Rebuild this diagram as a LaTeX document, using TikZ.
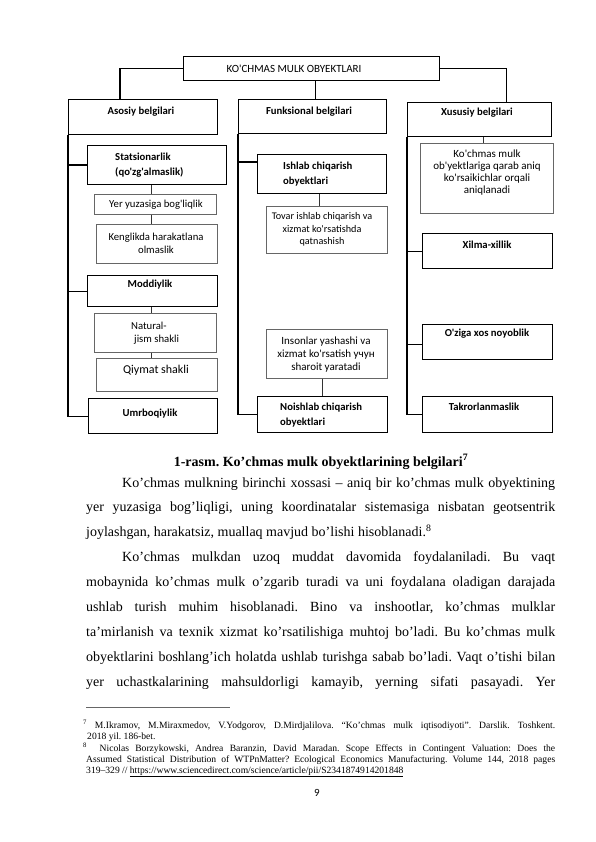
\documentclass[tikz,border=0pt]{standalone}
\usepackage{fontspec}
\setmainfont{Liberation Serif}
\newfontfamily\calfont{Carlito}
\frenchspacing
\begin{document}
\begin{tikzpicture}[x=1pt,y=-1pt,
  bbox/.style={draw=black, line width=1.1pt, inner sep=0pt, anchor=north west},
  gbox/.style={draw=black!60, line width=0.6pt, inner sep=0pt, anchor=north west},
  conn/.style={line width=1.1pt, black},
  tconn/.style={line width=0.7pt, black!80},
  hd/.style={font=\calfont\bfseries\fontsize{10.7}{15}\selectfont, inner sep=0pt},
  tx/.style={font=\calfont\fontsize{10.7}{13}\selectfont, inner sep=0pt, align=center},
  bodyline/.style={font=\fontsize{14}{16}\selectfont\frenchspacing, inner sep=0pt, anchor=base west},
  fnline/.style={font=\fontsize{9.6}{11}\selectfont\frenchspacing, inner sep=0pt, anchor=base west}]
\useasboundingbox (0,0) rectangle (595,842);
\fill[white] (0,0) rectangle (595,842);

% ---------- boxes ----------
\node[bbox, minimum width=256pt, minimum height=24pt] (top) at (183,56) {};
\node[bbox, minimum width=149pt, minimum height=35pt] (asosiy) at (68,99) {};
\node[bbox, minimum width=148pt, minimum height=34pt] (funk) at (238,99) {};
\node[bbox, minimum width=144pt, minimum height=34pt] (xusus) at (407,102) {};

\node[bbox, minimum width=139pt, minimum height=39pt] (stats) at (87,145) {};
\node[gbox, minimum width=122pt, minimum height=20pt] (yer) at (94,194) {};
\node[gbox, minimum width=121pt, minimum height=39pt] (kengl) at (96,224) {};
\node[bbox, minimum width=130pt, minimum height=31pt] (moddiy) at (87,275) {};
\node[gbox, minimum width=122pt, minimum height=39pt] (natural) at (94,313) {};
\node[gbox, minimum width=121pt, minimum height=33pt] (qiymat) at (96,358) {};
\node[bbox, minimum width=129pt, minimum height=35pt] (umr) at (88,398) {};

\node[bbox, minimum width=129pt, minimum height=39pt] (ishlab) at (257,154) {};
\node[gbox, minimum width=121pt, minimum height=47pt] (tovar) at (266,206) {};
\node[gbox, minimum width=121pt, minimum height=49pt] (inson) at (266,329) {};
\node[bbox, minimum width=130pt, minimum height=36pt] (noish) at (257,396) {};

\node[gbox, minimum width=133pt, minimum height=70pt] (koch) at (420,143) {};
\node[bbox, minimum width=130pt, minimum height=35pt] (xilma) at (422,233) {};
\node[bbox, minimum width=130pt, minimum height=35pt] (oziga) at (422,324) {};
\node[bbox, minimum width=130pt, minimum height=36pt] (takror) at (422,396) {};

% ---------- connectors ----------
\draw[conn] (top.west) -| ([xshift=52pt]asosiy.north west);
\draw[conn] ([xshift=4pt]top.south) -- ([xshift=4pt]top.south |- funk.north);
\draw[conn] (top.east) -| ([xshift=27pt]xusus.north);

\draw[conn] (asosiy.south west) |- (umr.west);
\draw[conn] (asosiy.south west |- stats.west) -- (stats.west);
\draw[conn] (asosiy.south west |- moddiy.west) -- (moddiy.west);
\draw[tconn] ([xshift=-5.5pt]stats.south) -- ([xshift=-5.5pt]stats.south |- yer.north);
\draw[tconn] ([xshift=-4pt]yer.south) -- ([xshift=-4pt]yer.south |- kengl.north);
\draw[tconn] ([xshift=-1pt]moddiy.south) -- ([xshift=-1pt]moddiy.south |- natural.north);
\draw[tconn] ([xshift=-4pt]natural.south) -- ([xshift=-4pt]natural.south |- qiymat.north);

\draw[conn] (funk.south west) |- (noish.west);
\draw[conn] (funk.south west |- ishlab.west) ++(0,-12) -- ([yshift=12pt]ishlab.west);
\draw[tconn] ([xshift=-2.5pt]ishlab.south) -- ([xshift=-2.5pt]ishlab.south |- tovar.north);
\draw[tconn] ([xshift=-4.5pt]inson.south) -- ([xshift=-4.5pt]inson.south |- noish.north);

\draw[conn] (xusus.south west) |- (takror.west);
\draw[conn] (xusus.south west |- xilma.west) -- (xilma.west);
\draw[conn] (xusus.south west |- oziga.west) ++(0,2) -- ([yshift=-2pt]oziga.west);
\draw[tconn] ([xshift=4pt]xusus.south) -- ([xshift=4pt]xusus.south |- koch.north);

% ---------- labels ----------
\node[inner sep=0pt, font=\calfont\fontsize{11}{13}\selectfont] (topT) at (294,68.5) {KO'CHMAS MULK OBYEKTLARI};
\node[hd] (asosiyT) at (141,112) {Asosiy belgilari};
\node[hd] (funkT) at (309,112) {Funksional belgilari};
\node[hd] (xususT) at (477,113) {Xususiy belgilari};
\node[hd, anchor=west, align=left] (statsT) at (115,165) {Statsionarlik\\(qo'zg'almaslik)};
\node[tx] (yerT) at (156,204.5) {Yer yuzasiga bog'liqlik};
\node[tx] (kenglT) at (156,243.5) {Kenglikda harakatlana\\olmaslik};
\node[hd] (moddiyT) at (150,285) {Moddiylik};
\node[tx, anchor=west, align=left] (naturalT) at (131,333.5) {Natural-\\\hspace*{3pt}jism shakli};
\node[tx, font=\calfont\fontsize{12}{14}\selectfont] (qiymatT) at (156,370) {Qiymat shakli};
\node[hd] (umrT) at (150,414) {Umrboqiylik};
\node[hd, anchor=west, align=left] (ishlabT) at (283,174.5) {Ishlab chiqarish\\obyektlari};
\node[tx, font=\calfont\fontsize{10.2}{12.5}\selectfont] (tovarT) at (322,229.5) {Tovar ishlab chiqarish va\\xizmat ko'rsatishda\\qatnashish};
\node[tx, font=\calfont\fontsize{11}{13}\selectfont] (insonT) at (326,355) {Insonlar yashashi va\\xizmat ko'rsatish учун\\sharoit yaratadi};
\node[hd, anchor=west, align=left] (noishT) at (280,415.5) {Noishlab chiqarish\\obyektlari};
\node[tx, font=\calfont\fontsize{11}{12}\selectfont] (kochT) at (487,173) {Ko'chmas mulk\\ob'yektlariga qarab aniq\\ko'rsaikichlar orqali\\aniqlanadi};
\node[hd] (xilmaT) at (487,245) {Xilma-xillik};
\node[hd] (ozigaT) at (487,334) {O'ziga xos noyoblik};
\node[hd] (takrorT) at (484,407) {Takrorlanmaslik};

% ---------- caption and body ----------
\node[inner sep=0pt, anchor=base, font=\bfseries\fontsize{14}{16}\selectfont] (cap) at (321,466) {1-rasm. Ko’chmas mulk obyektlarining belgilari\textsuperscript{7}};

\node[bodyline] (l1) at (122,487) {\makebox[433pt][s]{Ko’chmas mulkning birinchi xossasi – aniq bir ko’chmas mulk obyektining}};
\node[bodyline] (l2) at (86,511.9) {\makebox[469pt][s]{yer yuzasiga bog’liqligi, uning koordinatalar sistemasiga nisbatan geotsentrik}};
\node[bodyline] (l3) at (86,536.8) {joylashgan, harakatsiz, muallaq mavjud bo’lishi hisoblanadi.\textsuperscript{8}};
\node[bodyline] (l4) at (122,561.7) {\makebox[433pt][s]{Ko’chmas mulkdan uzoq muddat davomida foydalaniladi. Bu vaqt}};
\node[bodyline] (l5) at (86,586.6) {\makebox[469pt][s]{mobaynida ko’chmas mulk o’zgarib turadi va uni foydalana oladigan darajada}};
\node[bodyline] (l6) at (86,611.5) {\makebox[469pt][s]{ushlab turish muhim hisoblanadi. Bino va inshootlar, ko’chmas mulklar}};
\node[bodyline] (l7) at (86,636.4) {\makebox[469pt][s]{ta’mirlanish va texnik xizmat ko’rsatilishiga muhtoj bo’ladi. Bu ko’chmas mulk}};
\node[bodyline] (l8) at (86,661.3) {\makebox[469pt][s]{obyektlarini boshlang’ich holatda ushlab turishga sabab bo’ladi. Vaqt o’tishi bilan}};
\node[bodyline] (l9) at (86,686.2) {\makebox[469pt][s]{yer uchastkalarining mahsuldorligi kamayib, yerning sifati pasayadi. Yer}};

% ---------- footnotes ----------
\coordinate (ruleA) at (86,707);
\coordinate (ruleB) at (230,707);
\draw[line width=0.5pt, black!60] (ruleA) -- (ruleB);
\node[fnline] (f1) at (83,728) {\makebox[472pt][s]{\textsuperscript{7} M.Ikramov, M.Miraxmedov, V.Yodgorov, D.Mirdjalilova. “Ko’chmas mulk iqtisodiyoti”. Darslik. Toshkent.}};
\node[fnline] (f2) at (87,739) {2018 yil. 186-bet.};
\node[fnline] (f3) at (83,751) {\makebox[472pt][s]{\textsuperscript{8} \ Nicolas Borzykowski, Andrea Baranzin, David Maradan. Scope Effects in Contingent Valuation: Does the}};
\node[fnline] (f4) at (86,762) {\makebox[469pt][s]{Assumed Statistical Distribution of WTPnMatter? Ecological Economics Manufacturing. Volume 144, 2018 pages}};
\node[fnline] (f5) at (86,773) {319–329 // \underline{https://www.sciencedirect.com/science/article/pii/S2341874914201848}};

\node[inner sep=0pt, anchor=base, font=\calfont\fontsize{11}{13}\selectfont] (pg) at (317,796) {9};
\end{tikzpicture}
\end{document}
